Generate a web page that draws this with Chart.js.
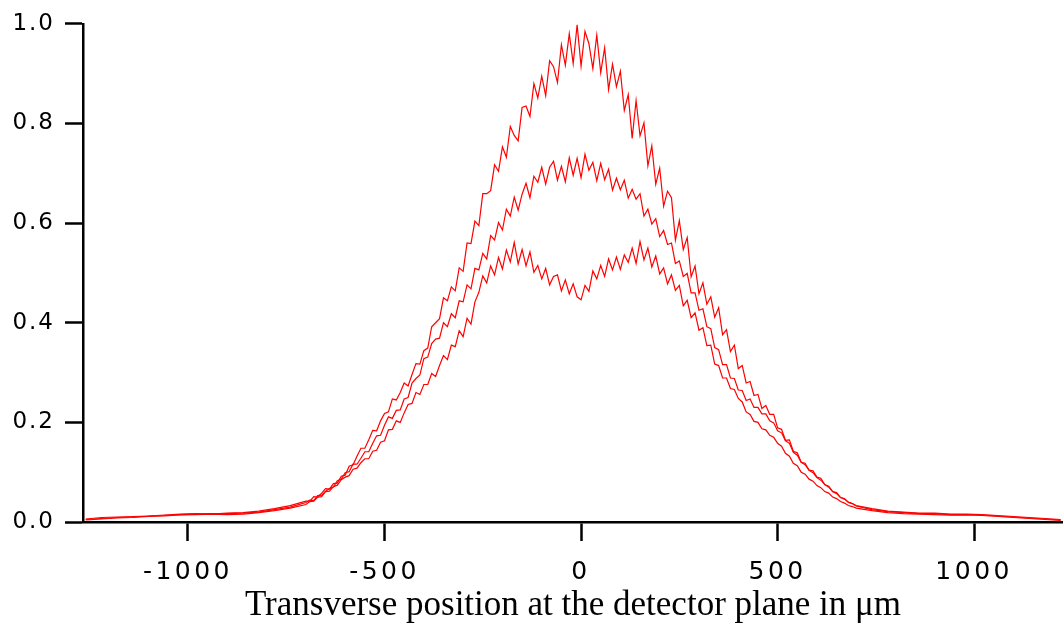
<!DOCTYPE html>
<html>
<head>
<meta charset="utf-8">
<script src="https://cdn.jsdelivr.net/npm/chart.js@4.4.1/dist/chart.umd.min.js"></script>
<style>
  html, body { margin: 0; padding: 0; background: #ffffff; }
  canvas { display: block; }
</style>
</head>
<body>
<canvas id="profileChart" width="1063" height="623"></canvas>
<script>
// Transverse profiles at the detector plane, three traces
// x positions in micrometres: sparse in the flat tails, every 10 um in the middle
var leftTailX = [-1260, -1220, -1180, -1140, -1100, -1060, -1020, -980, -940, -900, -860, -820, -780, -740];
var centerX = [
  -700, -690, -680, -670, -660, -650, -640, -630, -620, -610,
  -600, -590, -580, -570, -560, -550, -540, -530, -520, -510,
  -500, -490, -480, -470, -460, -450, -440, -430, -420, -410,
  -400, -390, -380, -370, -360, -350, -340, -330, -320, -310,
  -300, -290, -280, -270, -260, -250, -240, -230, -220, -210,
  -200, -190, -180, -170, -160, -150, -140, -130, -120, -110,
  -100, -90, -80, -70, -60, -50, -40, -30, -20, -10,
  0, 10, 20, 30, 40, 50, 60, 70, 80, 90,
  100, 110, 120, 130, 140, 150, 160, 170, 180, 190,
  200, 210, 220, 230, 240, 250, 260, 270, 280, 290,
  300, 310, 320, 330, 340, 350, 360, 370, 380, 390,
  400, 410, 420, 430, 440, 450, 460, 470, 480, 490,
  500, 510, 520, 530, 540, 550, 560, 570, 580, 590,
  600, 610, 620, 630, 640, 650, 660, 670, 680, 690,
  700
];
var rightTailX = [740, 780, 820, 860, 900, 940, 980, 1020, 1060, 1100, 1140, 1180, 1220];

// highest trace (single peak near 1.0)
var traceTop = [
  0.006, 0.009, 0.010, 0.011, 0.012, 0.014, 0.016, 0.017, 0.016, 0.018, 0.019, 0.022, 0.027, 0.033,
  0.042, 0.042, 0.051, 0.050, 0.058, 0.067, 0.066, 0.077, 0.078, 0.092,
  0.094, 0.112, 0.115, 0.132, 0.148, 0.148, 0.165, 0.184, 0.183, 0.203,
  0.218, 0.221, 0.247, 0.245, 0.260, 0.279, 0.273, 0.296, 0.318, 0.317,
  0.344, 0.349, 0.392, 0.400, 0.408, 0.450, 0.444, 0.472, 0.464, 0.510,
  0.503, 0.560, 0.559, 0.604, 0.595, 0.659, 0.659, 0.665, 0.717, 0.704,
  0.753, 0.732, 0.794, 0.776, 0.765, 0.832, 0.835, 0.814, 0.880, 0.851,
  0.895, 0.856, 0.926, 0.914, 0.882, 0.958, 0.917, 0.980, 0.920, 0.998,
  0.915, 0.985, 0.960, 0.910, 0.977, 0.902, 0.952, 0.868, 0.919, 0.874,
  0.905, 0.826, 0.858, 0.770, 0.846, 0.775, 0.801, 0.715, 0.755, 0.678,
  0.710, 0.634, 0.664, 0.651, 0.566, 0.605, 0.547, 0.571, 0.492, 0.514,
  0.458, 0.480, 0.437, 0.452, 0.411, 0.430, 0.376, 0.386, 0.342, 0.355,
  0.308, 0.314, 0.279, 0.282, 0.254, 0.256, 0.228, 0.234, 0.216, 0.216,
  0.189, 0.186, 0.164, 0.165, 0.142, 0.139, 0.120, 0.118, 0.104, 0.103,
  0.090, 0.088, 0.075, 0.072, 0.061, 0.059, 0.049, 0.047, 0.039, 0.037,
  0.033,
  0.027, 0.022, 0.020, 0.018, 0.018, 0.016, 0.016, 0.015, 0.013, 0.011, 0.009, 0.007, 0.005
];

// middle trace (flat top around 0.7)
var traceMid = [
  0.005, 0.007, 0.009, 0.010, 0.012, 0.013, 0.015, 0.016, 0.017, 0.017, 0.018, 0.020, 0.025, 0.030,
  0.039, 0.044, 0.043, 0.053, 0.054, 0.062, 0.067, 0.070, 0.083, 0.086,
  0.099, 0.101, 0.116, 0.116, 0.128, 0.141, 0.141, 0.158, 0.173, 0.174,
  0.194, 0.211, 0.208, 0.224, 0.225, 0.247, 0.250, 0.279, 0.288, 0.295,
  0.328, 0.331, 0.358, 0.367, 0.369, 0.400, 0.392, 0.418, 0.410, 0.444,
  0.442, 0.476, 0.468, 0.509, 0.506, 0.539, 0.528, 0.575, 0.566, 0.601,
  0.586, 0.628, 0.614, 0.652, 0.626, 0.658, 0.680, 0.651, 0.694, 0.682,
  0.712, 0.678, 0.712, 0.724, 0.686, 0.714, 0.683, 0.731, 0.696, 0.730,
  0.691, 0.738, 0.706, 0.722, 0.685, 0.720, 0.687, 0.708, 0.666, 0.690,
  0.667, 0.686, 0.650, 0.668, 0.648, 0.659, 0.614, 0.628, 0.598, 0.609,
  0.573, 0.585, 0.557, 0.560, 0.519, 0.524, 0.493, 0.499, 0.460, 0.460,
  0.425, 0.428, 0.392, 0.388, 0.350, 0.346, 0.316, 0.316, 0.289, 0.288,
  0.265, 0.264, 0.244, 0.247, 0.230, 0.230, 0.217, 0.217, 0.203, 0.199,
  0.183, 0.179, 0.163, 0.158, 0.140, 0.134, 0.120, 0.115, 0.104, 0.099,
  0.089, 0.084, 0.075, 0.070, 0.061, 0.057, 0.049, 0.046, 0.040, 0.037,
  0.032,
  0.025, 0.021, 0.019, 0.017, 0.017, 0.015, 0.015, 0.014, 0.012, 0.010, 0.008, 0.006, 0.004
];

// lowest trace (two humps with a dip at the centre)
var traceLow = [
  0.004, 0.006, 0.008, 0.009, 0.011, 0.012, 0.014, 0.015, 0.016, 0.015, 0.016, 0.019, 0.023, 0.028,
  0.035, 0.041, 0.042, 0.050, 0.051, 0.061, 0.062, 0.071, 0.074, 0.085,
  0.090, 0.093, 0.106, 0.108, 0.119, 0.127, 0.127, 0.142, 0.144, 0.160,
  0.163, 0.185, 0.186, 0.203, 0.200, 0.219, 0.236, 0.238, 0.260, 0.256,
  0.276, 0.276, 0.298, 0.292, 0.314, 0.334, 0.326, 0.355, 0.352, 0.384,
  0.372, 0.409, 0.397, 0.442, 0.461, 0.494, 0.480, 0.514, 0.496, 0.531,
  0.508, 0.546, 0.522, 0.561, 0.518, 0.547, 0.514, 0.542, 0.501, 0.515,
  0.488, 0.509, 0.476, 0.493, 0.496, 0.464, 0.486, 0.458, 0.478, 0.452,
  0.446, 0.475, 0.463, 0.504, 0.488, 0.515, 0.493, 0.528, 0.506, 0.532,
  0.507, 0.536, 0.521, 0.550, 0.519, 0.563, 0.526, 0.550, 0.512, 0.534,
  0.498, 0.510, 0.478, 0.496, 0.465, 0.475, 0.434, 0.445, 0.410, 0.420,
  0.385, 0.390, 0.354, 0.355, 0.317, 0.314, 0.289, 0.289, 0.268, 0.266,
  0.248, 0.241, 0.221, 0.216, 0.202, 0.200, 0.187, 0.185, 0.174, 0.170,
  0.158, 0.152, 0.138, 0.132, 0.118, 0.113, 0.100, 0.096, 0.086, 0.082,
  0.073, 0.069, 0.061, 0.058, 0.050, 0.047, 0.041, 0.038, 0.033, 0.031,
  0.028,
  0.023, 0.019, 0.017, 0.016, 0.015, 0.014, 0.014, 0.013, 0.011, 0.009, 0.007, 0.005, 0.003
];

var xTickValues = [-1000, -500, 0, 500, 1000];

var positions = leftTailX.concat(centerX, rightTailX);

function toPoints(values) {
  return positions.map(function(x, i) { return {x: x, y: values[i]}; });
}

function trace(values) {
  return {
    data: toPoints(values),
    borderColor: '#ff0000',
    borderWidth: 1.2,
    pointRadius: 0,
    fill: false,
    tension: 0
  };
}

// tick labels in the original are spaced out a bit, so widen them while drawing
var tickSpacing = {
  id: 'tickSpacing',
  beforeDraw: function(chart) {
    [['x', '3.5px'], ['y', '2px']].forEach(function(pair) {
      var scale = chart.scales[pair[0]];
      if (scale._spaced) return;
      var drawLabels = scale.drawLabels;
      scale.drawLabels = function(area) {
        var c = this.ctx;
        c.save();
        c.letterSpacing = pair[1];
        drawLabels.call(this, area);
        c.restore();
      };
      scale._spaced = true;
    });
  }
};

var ctx = document.getElementById('profileChart').getContext('2d');
var profileChart = new Chart(ctx, {
  type: 'line',
  data: {
    datasets: [trace(traceTop), trace(traceMid), trace(traceLow)]
  },
  plugins: [tickSpacing],
  options: {
    responsive: false,
    animation: false,
    layout: { padding: { top: 1.5, right: 0, bottom: 0, left: 0 } },
    plugins: {
      legend: { display: false },
      tooltip: { enabled: false }
    },
    scales: {
      x: {
        type: 'linear',
        min: -1267,
        max: 1226,
        afterBuildTicks: function(scale) {
          scale.ticks = xTickValues.map(function(v) { return {value: v}; });
        },
        afterFit: function(scale) { scale.height = 101; },
        border: { display: true, color: '#000000', width: 2.5 },
        grid: {
          drawOnChartArea: false,
          drawTicks: true,
          tickLength: 19,
          tickWidth: 2.5,
          tickColor: '#000000'
        },
        ticks: {
          color: '#000000',
          padding: 16,
          maxRotation: 0,
          font: { family: 'DejaVu Sans', size: 25 },
          callback: function(v) { return String(v); }
        },
        title: {
          display: true,
          text: 'Transverse position at the detector plane in μm',
          color: '#000000',
          padding: { top: 0, bottom: 0 },
          font: { family: 'Liberation Serif', size: 35, lineHeight: 1.0 }
        }
      },
      y: {
        min: 0,
        max: 1,
        afterFit: function(scale) { scale.width = 83; },
        border: { display: true, color: '#000000', width: 2.5 },
        grid: {
          drawOnChartArea: false,
          drawTicks: true,
          tickLength: 18,
          tickWidth: 2.5,
          tickColor: '#000000'
        },
        ticks: {
          stepSize: 0.2,
          color: '#000000',
          padding: 10,
          font: { family: 'DejaVu Sans', size: 23 },
          callback: function(v) { return v.toFixed(1); }
        }
      }
    }
  }
});
</script>
</body>
</html>
